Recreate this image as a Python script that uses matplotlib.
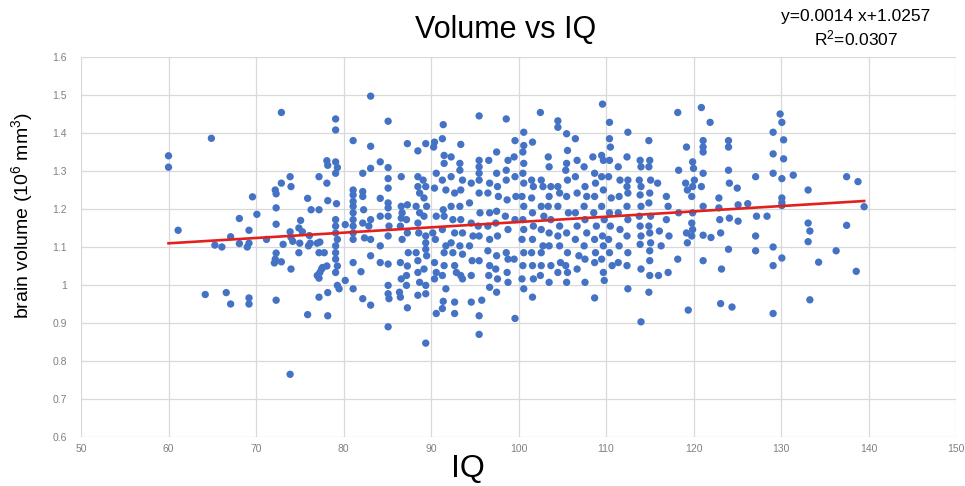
import matplotlib
matplotlib.use("Agg")
import matplotlib.pyplot as plt

# values (IQ, brain volume in 10^6 mm^3)
iq = [
    60.0, 60.0, 64.9, 61.1, 65.3, 66.1, 64.2, 66.6, 67.1, 67.1, 68.1, 68.1,
    69.2, 69.2, 69.0, 69.2, 69.2, 69.6, 70.1, 71.2,
    72.2, 72.3, 72.3, 72.3, 72.3, 72.2, 72.1, 72.3,
    72.9, 73.9, 72.9, 73.9, 74.0, 72.9, 73.1, 74.0, 73.9, 74.0, 74.2,
    74.9, 75.1, 75.3, 75.0, 74.9,
    75.9, 75.9, 76.1, 76.3, 76.2, 76.0,
    77.2, 77.2, 77.0, 77.3, 77.2, 77.0, 77.3, 77.5, 77.2, 77.6, 77.2,
    78.1, 78.2, 78.1, 78.2, 77.8, 78.1, 78.2, 78.2,
    79.1, 79.1, 79.1, 79.3, 79.1, 79.2,
    79.1, 79.1, 79.1, 79.3, 79.1, 79.1, 79.1, 79.3, 79.1, 79.3, 79.5,
    80.2, 80.2, 81.1, 81.1, 81.1, 81.1, 81.1, 81.1, 81.1, 81.1, 81.1, 81.1, 81.1, 81.1,
    82.2, 82.2, 82.2, 82.3, 82.2, 82.4, 82.0, 82.2,
    83.1, 83.1, 83.1, 83.1, 82.9, 83.1, 83.1, 83.1,
    84.2, 84.2, 84.2, 84.2, 84.2,
    85.1, 85.1, 85.1, 85.1, 85.1, 85.1, 85.1, 85.2, 85.1, 85.1, 85.1, 85.1, 85.2, 85.1,
    86.6, 86.6, 86.7, 86.6, 86.5, 86.7, 86.5, 86.6, 86.4, 86.5,
    87.3, 87.3, 87.2, 87.3, 87.4, 87.3, 87.2, 87.2, 87.3,
    88.5, 88.5, 88.5, 88.7, 88.3, 88.7, 88.5, 88.6, 88.3, 88.5, 88.5, 88.7, 88.5,
    89.4, 89.1, 89.4, 89.2, 89.5, 89.2, 89.4, 89.4, 89.4, 89.5, 89.2, 89.4, 89.4, 89.4,
    90.4, 90.3, 90.6, 90.4, 90.6, 90.2, 90.5, 90.4, 90.6, 90.4, 90.6,
    91.4, 91.3, 91.5, 91.5, 91.3, 91.7, 91.4, 91.5, 91.3, 91.7, 91.5, 91.5, 91.3, 91.7, 91.4, 91.3,
    92.3, 92.3, 92.7, 92.3, 92.5, 92.7, 92.3, 92.5, 92.7, 92.9, 92.7, 92.7,
    93.4, 93.3, 93.3, 93.6, 93.4, 93.3, 93.4, 93.6, 93.3, 93.6, 93.4, 93.6,
    94.6, 94.4, 94.6, 94.8, 94.4, 94.7, 94.6, 94.6,
    95.5, 95.5, 95.5, 95.5, 95.5, 95.5, 95.6, 95.4, 95.5, 95.5, 95.8, 95.5, 95.5,
    96.6, 96.7, 96.5, 96.7, 96.5, 96.7, 96.5, 96.7, 96.6, 96.7,
    97.5, 97.5, 97.6, 97.7, 97.5, 97.4, 97.6, 97.5, 97.4, 97.6, 97.5,
    98.6, 98.8, 98.6, 98.6, 98.7, 98.5, 98.8, 98.6, 98.8, 98.7, 98.8,
    99.6, 99.5, 99.6, 99.7, 99.6, 99.5, 99.6,
    100.6, 100.6, 100.5, 100.6, 100.5, 100.6, 100.4, 100.6, 100.5, 100.6, 100.4, 100.6, 100.5, 100.4, 100.6,
    101.6, 101.5, 101.7, 101.5, 101.6, 101.7, 101.6, 101.5, 101.6, 101.7, 101.6,
    102.5, 102.6, 102.8, 102.6, 102.9, 102.6, 102.8, 102.6, 102.6, 102.5,
    103.4, 103.5, 103.7, 103.5, 103.4, 103.7, 103.5, 103.5, 103.7, 103.5,
    104.5, 104.5, 104.5, 104.7, 104.5, 104.7, 104.5, 104.7, 104.8, 104.5,
    105.5, 105.6, 105.5, 105.4, 105.6, 105.5, 105.7, 105.5, 105.6, 105.4, 105.6, 105.5,
    106.5, 106.7, 106.5, 106.7, 106.5, 106.7, 106.5, 106.9, 106.7,
    107.5, 107.6, 107.8, 107.5, 107.6, 107.8, 107.5, 107.6, 107.6,
    108.7,
    108.5, 108.7, 108.8, 108.7, 108.6, 108.9, 108.7, 108.8, 108.7,
    109.6, 109.5, 109.7, 109.5, 109.7, 109.5, 109.8, 109.6, 109.7, 109.5, 109.7, 109.8,
    110.4, 110.4, 110.5, 110.4, 110.3, 110.6, 110.4, 110.5, 110.3, 110.4, 110.7,
    111.4, 111.6, 111.5, 111.4, 111.6, 111.5, 111.4,
    112.5, 112.4, 112.5, 112.4, 112.5, 112.4, 112.5, 112.4, 112.5, 112.4, 112.5,
    113.9, 114.0, 113.8, 114.0, 113.9, 114.0, 113.8, 113.9, 114.0, 113.9, 114.0, 114.0,
    114.9, 115.0, 114.9, 115.1, 115.0, 114.9, 115.1, 114.9, 115.0, 115.1, 115.0, 115.0, 115.0, 114.9,
    115.9, 116.1, 116.3, 116.0,
    116.9, 117.1, 116.9, 117.2, 117.1,
    118.2, 118.3, 118.3, 118.2,
    119.2, 119.1, 119.3, 119.2, 119.3, 119.4,
    119.9, 120.0, 120.1, 119.9, 119.8, 119.9, 119.8, 119.9, 119.8,
    121.1,
    120.9, 121.1, 121.1, 121.1, 121.1, 120.9, 121.1, 121.1,
    122.0, 121.9,
    122.9, 122.9, 123.0, 123.1, 123.2, 123.1,
    124.0, 124.0, 124.0, 124.1, 124.1, 124.0, 124.4,
    125.0, 125.1, 125.1,
    126.2,
    127.1, 127.2, 127.1, 127.1,
    128.4,
    129.1, 129.1, 129.1, 129.1, 129.1, 129.1,
    129.9, 130.1, 130.1, 130.1, 130.1, 130.1, 130.3, 130.3, 130.1,
    131.4,
    133.1, 133.1, 133.1, 133.3, 133.3,
    134.3, 136.3, 137.5, 137.5, 138.8, 138.6, 139.5,
]

volume = [
    1.34, 1.31, 1.386, 1.144, 1.105, 1.10, 0.975, 0.98, 0.95, 1.127, 1.175, 1.109,
    1.144, 1.11, 1.10, 0.966, 0.95, 1.232, 1.186, 1.12,
    1.25, 1.24, 1.203, 1.16, 1.084, 1.068, 1.058, 0.96,
    1.454, 0.765, 1.268, 1.285, 1.259, 1.061, 1.107, 1.042, 1.14, 1.125, 1.115,
    1.15, 1.17, 1.14, 1.11, 1.085,
    1.228, 0.922, 1.13, 1.198, 1.11, 1.103,
    1.285, 1.198, 1.11, 1.113, 1.085, 1.025, 1.033, 1.042, 1.018, 1.046, 0.968,
    1.327, 1.315, 1.268, 1.222, 1.085, 1.05, 0.98, 0.919,
    1.437, 1.408, 1.324, 1.309, 1.294, 1.214,
    1.172, 1.155, 1.137, 1.12, 1.103, 1.085, 1.068, 1.05, 1.033, 0.999, 0.99,
    1.159, 1.012, 1.38, 1.25, 1.237, 1.22, 1.207, 1.19, 1.172, 1.155, 1.137, 1.12, 1.059, 0.99,
    1.294, 1.246, 1.233, 1.198, 1.163, 1.124, 1.035, 0.964,
    1.497, 1.365, 1.307, 1.172, 1.155, 1.12, 1.077, 0.947,
    1.324, 1.228, 1.181, 1.103, 1.059,
    1.431, 1.309, 1.28, 1.255, 1.216, 1.203, 1.181, 1.155, 1.129, 1.055, 0.999, 0.977, 0.964, 0.89,
    1.285, 1.207, 1.19, 1.176, 1.155, 1.12, 1.059, 1.016, 0.981, 0.968,
    1.372, 1.211, 1.172, 1.137, 1.085, 1.05, 1.025, 0.999, 0.94,
    1.353, 1.285, 1.259, 1.242, 1.207, 1.19, 1.163, 1.137, 1.085, 1.064, 1.033, 1.007, 0.973,
    1.372, 1.276, 1.259, 1.229, 1.207, 1.181, 1.129, 1.111, 1.094, 1.077, 1.042, 0.999, 0.977, 0.847,
    1.376, 1.363, 1.294, 1.255, 1.181, 1.137, 1.12, 1.059, 1.033, 1.016, 0.925,
    1.422, 1.385, 1.341, 1.32, 1.276, 1.25, 1.198, 1.181, 1.146, 1.103, 1.085, 1.051, 1.025, 0.99, 0.957, 0.938,
    1.337, 1.285, 1.242, 1.207, 1.172, 1.137, 1.111, 1.085, 1.051, 1.033, 0.955, 0.925,
    1.37, 1.32, 1.302, 1.276, 1.25, 1.207, 1.172, 1.137, 1.103, 1.081, 1.025, 1.016,
    1.268, 1.216, 1.163, 1.129, 1.103, 1.064, 1.025, 0.955,
    1.445, 1.328, 1.311, 1.294, 1.276, 1.242, 1.19, 1.155, 1.129, 1.064, 0.96, 0.919, 0.87,
    1.328, 1.268, 1.242, 1.19, 1.155, 1.12, 1.09, 1.051, 1.025, 0.994,
    1.35, 1.294, 1.259, 1.233, 1.194, 1.163, 1.129, 1.077, 1.042, 1.016, 0.981,
    1.437, 1.328, 1.302, 1.276, 1.224, 1.181, 1.146, 1.085, 1.068, 1.033, 1.007,
    1.38, 1.337, 1.285, 1.233, 1.172, 1.068, 0.912,
    1.402, 1.367, 1.35, 1.32, 1.294, 1.268, 1.233, 1.207, 1.172, 1.146, 1.12, 1.085, 1.051, 1.016, 0.99,
    1.376, 1.276, 1.259, 1.229, 1.19, 1.155, 1.12, 1.085, 1.051, 1.016, 0.968,
    1.454, 1.276, 1.259, 1.207, 1.181, 1.146, 1.103, 1.085, 1.051, 1.025,
    1.337, 1.311, 1.259, 1.233, 1.207, 1.172, 1.137, 1.103, 1.051, 1.007,
    1.432, 1.415, 1.259, 1.242, 1.207, 1.155, 1.129, 1.103, 1.059, 1.033,
    1.398, 1.354, 1.32, 1.302, 1.276, 1.233, 1.19, 1.137, 1.085, 1.051, 1.033, 1.007,
    1.385, 1.328, 1.285, 1.242, 1.19, 1.155, 1.12, 1.077, 1.042,
    1.311, 1.259, 1.233, 1.207, 1.172, 1.137, 1.103, 1.068, 1.007,
    0.966,
    1.337, 1.294, 1.268, 1.233, 1.19, 1.155, 1.12, 1.085, 1.059,
    1.476, 1.341, 1.328, 1.285, 1.25, 1.207, 1.172, 1.129, 1.103, 1.068, 1.033, 1.012,
    1.428, 1.385, 1.363, 1.328, 1.285, 1.229, 1.19, 1.155, 1.12, 1.085, 1.051,
    1.311, 1.276, 1.233, 1.19, 1.146, 1.103, 1.059,
    1.402, 1.337, 1.276, 1.259, 1.242, 1.207, 1.172, 1.129, 1.085, 1.051, 0.99,
    1.328, 1.311, 1.276, 1.259, 1.237, 1.207, 1.181, 1.155, 1.129, 1.107, 1.042, 0.903,
    1.38, 1.328, 1.311, 1.276, 1.242, 1.216, 1.181, 1.155, 1.137, 1.111, 1.09, 1.064, 1.025, 0.981,
    1.268, 1.142, 1.103, 1.025,
    1.233, 1.207, 1.172, 1.129, 1.033,
    1.454, 1.302, 1.19, 1.068,
    1.363, 1.268, 1.25, 1.137, 1.111, 0.934,
    1.324, 1.307, 1.276, 1.259, 1.233, 1.19, 1.163, 1.146, 1.129,
    1.064,
    1.467, 1.38, 1.363, 1.35, 1.294, 1.259, 1.207, 1.131,
    1.125, 1.428,
    1.229, 1.203, 1.172, 1.137, 1.042, 0.951,
    1.38, 1.363, 1.302, 1.268, 1.176, 1.094, 0.942,
    1.255, 1.211, 1.168,
    1.214,
    1.285, 1.181, 1.129, 1.09,
    1.181,
    1.1, 1.051, 0.925, 1.402, 1.345, 1.294,
    1.45, 1.428, 1.28, 1.229, 1.217, 1.209, 1.382, 1.332, 1.071,
    1.289,
    1.25, 1.163, 1.114, 1.142, 0.961,
    1.06, 1.09, 1.285, 1.157, 1.272, 1.036, 1.206,
]

# trendline shown on the chart
slope = 0.0014
intercept = 1.0257
r_squared = 0.0307

plt.rcParams['font.family'] = ['Liberation Sans', 'DejaVu Sans']
plt.rcParams['mathtext.default'] = 'regular'

dpi = 100
fig = plt.figure(figsize=(965 / dpi, 486 / dpi), dpi=dpi)
ax = fig.add_axes([81 / 965, 1 - 437 / 486, (956 - 81) / 965, (437 - 57) / 486])

ax.scatter(iq, volume, s=28, color='#4472C4', edgecolors='none', zorder=3)

x_fit = [min(iq), max(iq)]
y_fit = [slope * x + intercept for x in x_fit]
ax.plot(x_fit, y_fit, color='#E3211C', linewidth=1.9, zorder=4)

ax.set_xlim(50, 150)
ax.set_ylim(0.6, 1.6)
ax.set_xticks(range(50, 151, 10))
ax.set_yticks([0.6, 0.7, 0.8, 0.9, 1.0, 1.1, 1.2, 1.3, 1.4, 1.5, 1.6])
ax.set_yticklabels(['0.6', '0.7', '0.8', '0.9', '1', '1.1', '1.2', '1.3', '1.4', '1.5', '1.6'])
ax.grid(True, color='#D9D9D9', linewidth=0.9, zorder=0)
ax.set_axisbelow(True)
for side in ax.spines.values():
    side.set_visible(False)
ax.tick_params(length=0, labelsize=7.5, labelcolor='#808080')
ax.tick_params(axis='y', pad=10)
ax.tick_params(axis='x', pad=5)

fig.text(506 / 965, 1 - 30 / 486, "Volume vs IQ", fontsize=22, ha='center', va='center')
fig.text(856 / 965, 1 - 17 / 486, "y=%.4f x+%.4f" % (slope, intercept),
         fontsize=12.5, ha='center', va='center')
fig.text(856 / 965, 1 - 38 / 486, "R$^{2}$=%.4f" % r_squared,
         fontsize=12.5, ha='center', va='center')
fig.text(22 / 965, 1 - 216 / 486, "brain volume (10$^{6}$ mm$^{3}$)",
         fontsize=14, rotation=90, ha='center', va='center')
fig.text(468 / 965, 1 - 469 / 486, "IQ", fontsize=23, ha='center', va='center')

fig.savefig("out.png", dpi=dpi)
plt.close(fig)
